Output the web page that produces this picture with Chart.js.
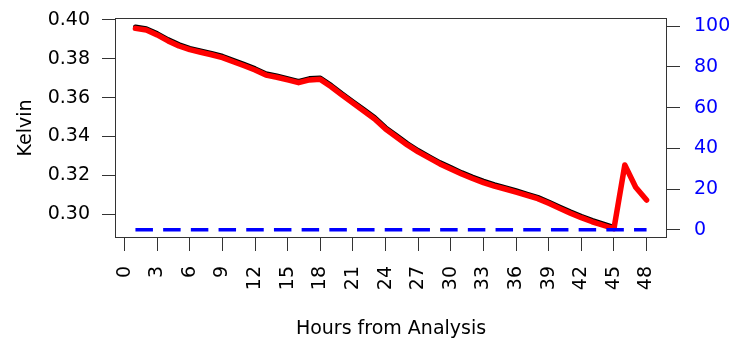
<!DOCTYPE html>
<html>
<head>
<meta charset="utf-8">
<script src="https://cdn.jsdelivr.net/npm/chart.js@4.4.1/dist/chart.umd.min.js"></script>
<style>
  html, body { margin: 0; padding: 0; background: #fff; }
  #wrap { width: 732px; height: 343px; }
</style>
</head>
<body>
<div id="wrap"><canvas id="chart" width="732" height="343"></canvas></div>
<script>
// forecast hours
const hours = [1, 2, 3, 4, 5, 6, 7, 8, 9, 10, 11, 12, 13, 14, 15, 16, 17, 18, 19, 20, 21, 22, 23, 24,
    25, 26, 27, 28, 29, 30, 31, 32, 33, 34, 35, 36, 37, 38, 39, 40, 41, 42, 43, 44, 45, 46, 47, 48];

// Kelvin, red run (all 48 h)
const redK = [0.3957, 0.3948, 0.3923, 0.3892, 0.3866, 0.3847, 0.3834, 0.3821, 0.3806, 0.3785, 0.3764, 0.3742,
    0.3716, 0.3705, 0.3691, 0.3677, 0.3691, 0.3694, 0.3656, 0.3613, 0.3572, 0.3531, 0.3490, 0.3438,
    0.3397, 0.3356, 0.3320, 0.3289, 0.3258, 0.3232, 0.3206, 0.3183, 0.3162, 0.3144, 0.3129, 0.3113,
    0.3096, 0.3079, 0.3055, 0.3029, 0.3004, 0.2981, 0.2960, 0.2942, 0.2924, 0.3253, 0.3138, 0.3072];

// Kelvin, black run (stops at 45 h)
const blackK = [0.3964, 0.3955, 0.3930, 0.3899, 0.3873, 0.3854, 0.3841, 0.3828, 0.3813, 0.3792, 0.3771, 0.3749,
    0.3723, 0.3712, 0.3698, 0.3684, 0.3698, 0.3701, 0.3663, 0.3620, 0.3579, 0.3538, 0.3497, 0.3445,
    0.3404, 0.3363, 0.3327, 0.3296, 0.3265, 0.3239, 0.3213, 0.3190, 0.3169, 0.3151, 0.3136, 0.3120,
    0.3103, 0.3086, 0.3062, 0.3036, 0.3011, 0.2988, 0.2967, 0.2949, 0.2931];

// right axis series (blue dashed)
const blueVals = [0, 0, 0, 0, 0, 0, 0, 0, 0, 0, 0, 0, 0, 0, 0, 0, 0, 0, 0, 0, 0, 0, 0, 0,
    0, 0, 0, 0, 0, 0, 0, 0, 0, 0, 0, 0, 0, 0, 0, 0, 0, 0, 0, 0, 0, 0, 0, 0];

const xTicks = [0, 3, 6, 9, 12, 15, 18, 21, 24, 27, 30, 33, 36, 39, 42, 45, 48];
const leftTicks = [0.30, 0.32, 0.34, 0.36, 0.38, 0.40];
const rightTicks = [0, 20, 40, 60, 80, 100];

const FONT = 'DejaVu Sans';

function pts(xs, ys) {
    return ys.map((y, i) => ({x: xs[i], y: y}));
}

// fixed axis sizes, and no label overhang eating into the plot area
function fixWidth(w) {
    return s => { s.width = w; s.paddingTop = 0; s.paddingBottom = 0; };
}

// plain box round the plot region
const boxPlugin = {
    id: 'plotBox',
    afterDraw(chart) {
        const a = chart.chartArea;
        const ctx = chart.ctx;
        ctx.save();
        ctx.strokeStyle = '#333';
        ctx.lineWidth = 1;
        ctx.strokeRect(Math.round(a.left) + 0.5, Math.round(a.top) + 0.5,
            Math.round(a.right - a.left) - 1, Math.round(a.bottom - a.top) - 1);
        ctx.restore();
    }
};

new Chart(document.getElementById('chart'), {
    type: 'line',
    data: {
        datasets: [
            {
                data: pts(hours, blueVals),
                yAxisID: 'y1',
                borderColor: '#0000ff',
                borderWidth: 3.5,
                borderDash: [17.5, 10.2],
                borderCapStyle: 'butt',
                pointRadius: 0,
                tension: 0
            },
            {
                data: pts(hours, redK),
                yAxisID: 'y',
                borderColor: '#ff0000',
                borderWidth: 5.5,
                borderJoinStyle: 'round',
                borderCapStyle: 'round',
                pointRadius: 0,
                tension: 0
            },
            {
                data: pts(hours, blackK),
                yAxisID: 'y',
                borderColor: '#000000',
                borderWidth: 5,
                borderJoinStyle: 'round',
                borderCapStyle: 'round',
                pointRadius: 0,
                tension: 0
            }
        ]
    },
    options: {
        responsive: false,
        animation: false,
        layout: {padding: {top: 18, left: 0, right: 0, bottom: 0}},
        plugins: {
            legend: {display: false},
            tooltip: {enabled: false}
        },
        scales: {
            x: {
                type: 'linear',
                position: 'bottom',
                min: -0.88,
                max: 49.88,
                afterBuildTicks: s => { s.ticks = xTicks.map(v => ({value: v})); },
                afterFit: s => { s.height = 105; s.paddingLeft = 0; s.paddingRight = 0; },
                ticks: {
                    autoSkip: false,
                    minRotation: 90,
                    maxRotation: 90,
                    padding: 15,
                    color: '#000',
                    font: {family: FONT, size: 19}
                },
                grid: {drawOnChartArea: false, tickLength: 13, color: '#333'},
                border: {display: false},
                title: {
                    display: true,
                    text: 'Hours from Analysis',
                    color: '#000',
                    font: {family: FONT, size: 19},
                    padding: {top: 0, bottom: 3}
                }
            },
            y: {
                type: 'linear',
                position: 'left',
                min: 0.28763,
                max: 0.40103,
                afterBuildTicks: s => { s.ticks = leftTicks.map(v => ({value: v})); },
                afterFit: fixWidth(115),
                ticks: {
                    padding: 12,
                    color: '#000',
                    font: {family: FONT, size: 19},
                    callback: v => v.toFixed(2)
                },
                grid: {drawOnChartArea: false, tickLength: 13, color: '#333'},
                border: {display: false},
                title: {
                    display: true,
                    text: 'Kelvin',
                    color: '#000',
                    font: {family: FONT, size: 19},
                    padding: {top: 15, bottom: 0}
                }
            },
            y1: {
                type: 'linear',
                position: 'right',
                min: -4,
                max: 104,
                afterBuildTicks: s => { s.ticks = rightTicks.map(v => ({value: v})); },
                afterFit: fixWidth(65),
                ticks: {
                    padding: 14,
                    color: '#0000ff',
                    font: {family: FONT, size: 19}
                },
                grid: {drawOnChartArea: false, tickLength: 13, color: '#333'},
                border: {display: false}
            }
        }
    },
    plugins: [boxPlugin]
});
</script>
</body>
</html>
